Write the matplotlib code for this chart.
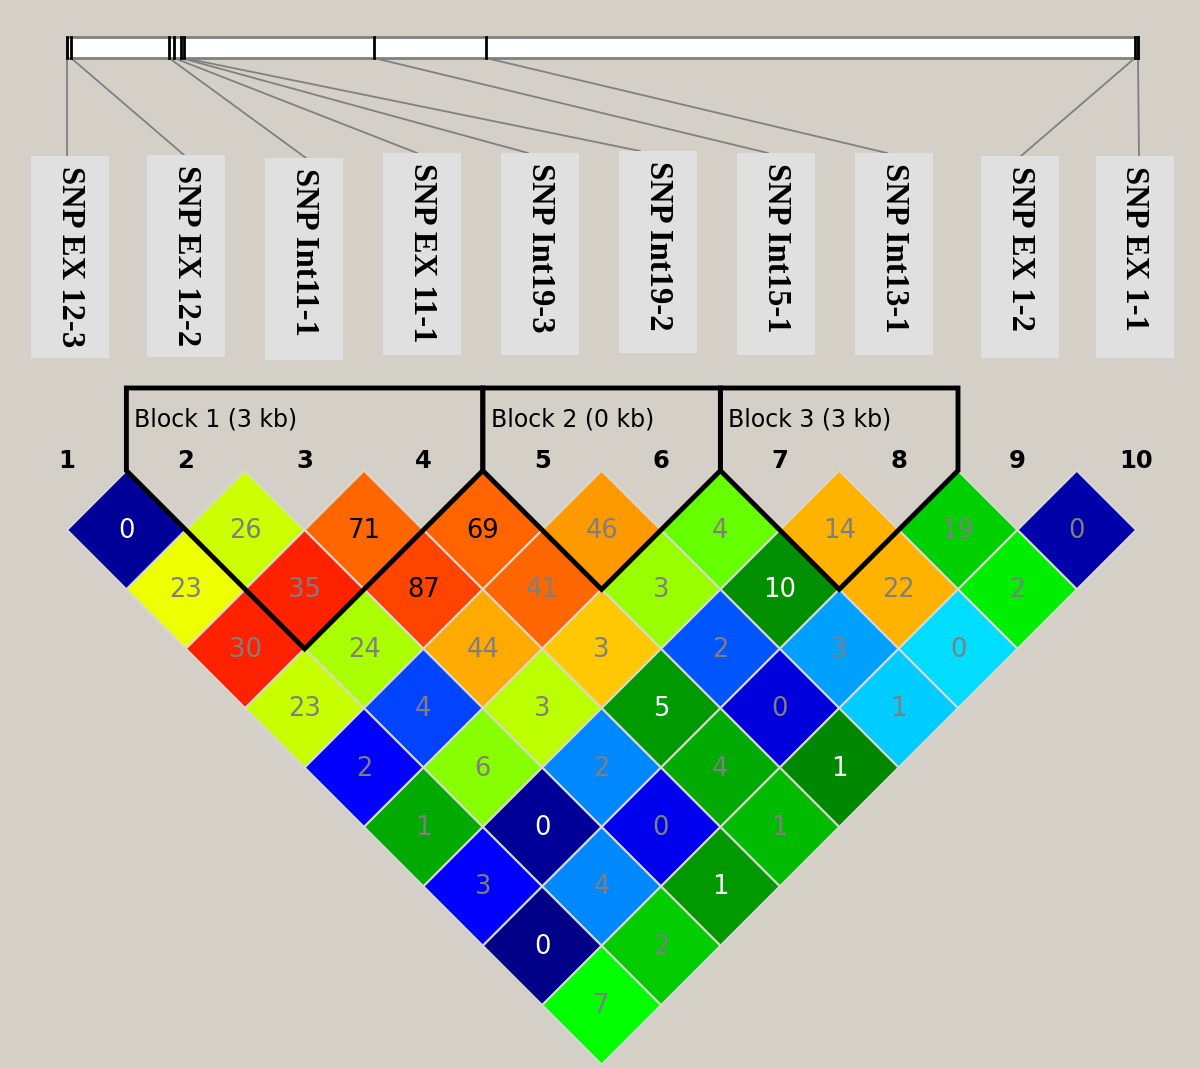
import matplotlib.pyplot as plt
from matplotlib.patches import Polygon, Rectangle
import numpy as np

# --- data ---------------------------------------------------------------
snp_names = ['SNP EX 12-3', 'SNP EX 12-2', 'SNP Int11-1', 'SNP EX 11-1',
             'SNP Int19-3', 'SNP Int19-2', 'SNP Int15-1', 'SNP Int13-1',
             'SNP EX 1-2', 'SNP EX 1-1']
snp_numbers = [str(i) for i in range(1, 11)]

# ld_rows[d-1][i] -> value for pair (i+1, i+1+d)
ld_rows = [
    [0, 26, 71, 69, 46, 4, 14, 19, 0],
    [23, 35, 87, 41, 3, 10, 22, 2],
    [30, 24, 44, 3, 2, 3, 0],
    [23, 4, 3, 5, 0, 1],
    [2, 6, 2, 4, 1],
    [1, 0, 0, 1],
    [3, 4, 1],
    [0, 2],
    [7],
]
cell_colors = [
    ['#000099', '#ccff00', '#ff6600', '#ff6400', '#ff9900', '#66ff00', '#ffb300', '#00d000', '#0000aa'],
    ['#eeff00', '#ff2200', '#ff4400', '#ff6600', '#99ff00', '#008f00', '#ffb300', '#00ee00'],
    ['#ff2200', '#aaff00', '#ffaa00', '#ffc800', '#0055ff', '#00a0ff', '#00ddff'],
    ['#c8ff00', '#0044ff', '#bbff00', '#009900', '#0000dd', '#00ccff'],
    ['#0000ff', '#88ff00', '#0088ff', '#00aa00', '#008800'],
    ['#00aa00', '#000099', '#0000ee', '#00bb00'],
    ['#0000ff', '#0088ff', '#009900'],
    ['#000088', '#00cc00'],
    ['#00ff00'],
]
text_tone = [
    'wgkkggggg',
    'ggkggwgg',
    'ggggggg',
    'gggwgg',
    'ggggw',
    'gwgg',
    'ggw',
    'wg',
    'g',
]
blocks = [(2, 4, 'Block 1 (3 kb)'), (5, 6, 'Block 2 (0 kb)'), (7, 8, 'Block 3 (3 kb)')]

# --- layout --------------------------------------------------------------
BG = '#d4d0c8'
step = 118.8
snp_x = 67 + step * np.arange(10)
h = step / 2
row1_y = 530
bar_pos = [67, 71, 169, 174, 181, 184, 374, 486, 1135, 1138]
bar_top, bar_bot = 37, 58
box_cx = [70, 186, 304, 422, 540, 658, 776, 894, 1020, 1135]
box_top = [156, 155, 158, 153, 153, 151, 153, 153, 156, 156]
line_end = [67, 184, 306, 417, 528, 640, 768, 887, 1021, 1139]
box_w, box_h = 78, 202
tones = {'w': 'white', 'g': '#7f7f7f', 'k': 'black'}

fig = plt.figure(figsize=(12, 10.68), dpi=100, facecolor=BG)
ax = fig.add_axes([0, 0, 1, 1])
ax.set_xlim(0, 1200)
ax.set_ylim(1068, 0)
ax.axis('off')
ax.set_facecolor(BG)

# gene bar and ticks
ax.add_patch(Rectangle((bar_pos[0], bar_top), bar_pos[-1] - bar_pos[0], bar_bot - bar_top,
                       facecolor='white', edgecolor='#808080', lw=2, zorder=2))
for bx in bar_pos:
    ax.plot([bx, bx], [bar_top, bar_bot], color='black', lw=2, zorder=3)

# connector lines and name boxes
for i, name in enumerate(snp_names):
    ax.plot([bar_pos[i], line_end[i]], [bar_bot, box_top[i]], color='#808080', lw=1.3, zorder=1)
    ax.add_patch(Rectangle((box_cx[i] - box_w / 2, box_top[i]), box_w, box_h,
                           facecolor='#e0e0e0', edgecolor='none', zorder=2))
    ax.text(box_cx[i], box_top[i] + 10, name, rotation=-90, ha='center', va='top',
            family='Liberation Serif', fontweight='bold', fontsize=23.5, zorder=3)

# SNP numbers
for x, lab in zip(snp_x, snp_numbers):
    ax.text(x, 461, lab, ha='center', va='center', fontsize=17.5, fontweight='bold')

# LD diamonds
for d, row in enumerate(ld_rows, start=1):
    for i, val in enumerate(row):
        cx = (snp_x[i] + snp_x[i + d]) / 2
        cy = row1_y + (d - 1) * h
        verts = [(cx - h, cy), (cx, cy - h), (cx + h, cy), (cx, cy + h)]
        ax.add_patch(Polygon(verts, closed=True, facecolor=cell_colors[d - 1][i],
                             edgecolor='#d8d8d0', lw=1.5, zorder=2))
        ax.text(cx, cy + 1, str(val), ha='center', va='center', fontsize=18.5,
                color=tones[text_tone[d - 1][i]], zorder=3)

# block outlines
top_y = 388
base_y = row1_y - h
for a, b, lab in blocks:
    left = (snp_x[a - 2] + snp_x[a - 1]) / 2
    right = (snp_x[b - 1] + snp_x[b]) / 2
    vx = (snp_x[a - 1] + snp_x[b - 1]) / 2
    vy = base_y + (right - left) / 2
    ax.add_patch(Polygon([(left, top_y), (right, top_y), (right, base_y), (vx, vy), (left, base_y)],
                         closed=True, fill=False, edgecolor='black', lw=3.5, zorder=4,
                         joinstyle='miter'))
    ax.text(left + 8, 420, lab, ha='left', va='center', fontsize=17, zorder=4)

fig.savefig('out.png', dpi=100, facecolor=BG)
